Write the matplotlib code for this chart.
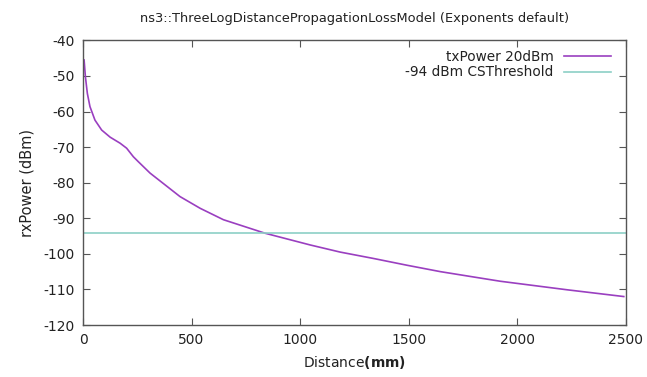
import matplotlib
matplotlib.use("Agg")
import matplotlib.pyplot as plt

# values
distance = [5, 11, 20, 32, 55, 86, 125, 171, 201, 232, 255, 309, 447, 540,
            647, 839, 1047, 1185, 1339, 1493, 1647, 1800, 1923, 2077, 2231,
            2492]
rx_power = [-45.5, -50.2, -54.9, -58.6, -62.4, -65.2, -67.2, -68.9, -70.3,
            -72.7, -74.1, -77.3, -83.9, -87.2, -90.4, -94.2, -97.5, -99.5,
            -101.3, -103.2, -105.0, -106.5, -107.7, -108.9, -110.1, -112.0]
cs_threshold = -94
x_ticks = [0, 500, 1000, 1500, 2000, 2500]
y_ticks = [-120, -110, -100, -90, -80, -70, -60, -50, -40]

plt.rcParams['axes.unicode_minus'] = False
plt.rcParams['font.family'] = 'DejaVu Sans'
plt.rcParams['mathtext.fontset'] = 'dejavusans'

fig = plt.figure(figsize=(6.47, 3.77), dpi=100)
ax = fig.add_axes([0.1283, 0.1379, 0.9668 - 0.1283, 0.8928 - 0.1379])

ax.plot(distance, rx_power, color='#9a3fc0', lw=1.2, label='txPower 20dBm')
ax.axhline(cs_threshold, color='#8ccfc6', lw=1.2, label='-94 dBm CSThreshold')

ax.set_xlim(0, 2500)
ax.set_ylim(-120, -40)
ax.set_xticks(x_ticks)
ax.set_yticks(y_ticks)
ax.tick_params(direction='in', length=5, width=0.8, color='#555555',
               top=True, right=True, labelsize=10, labelcolor='#222222', pad=6)
for s in ax.spines.values():
    s.set_color('#555555')
    s.set_linewidth(1.0)

ax.set_title('ns3::ThreeLogDistancePropagationLossModel (Exponents default)',
             fontsize=9.4, color='#222222', pad=13)
ax.set_xlabel(r'Distance$\mathbf{(mm)}$', fontsize=10, color='#222222', labelpad=5)
ax.set_ylabel('rxPower (dBm)', fontsize=10.5, color='#222222', labelpad=6)

leg = ax.legend(loc='upper right', frameon=False, markerfirst=False,
                fontsize=9.8, handlelength=3.4, handletextpad=0.8,
                labelspacing=0.1, borderaxespad=0.3,
                bbox_to_anchor=(0.99, 1.0))
for t in leg.get_texts():
    t.set_color('#222222')

fig.savefig('out.png', dpi=100)
